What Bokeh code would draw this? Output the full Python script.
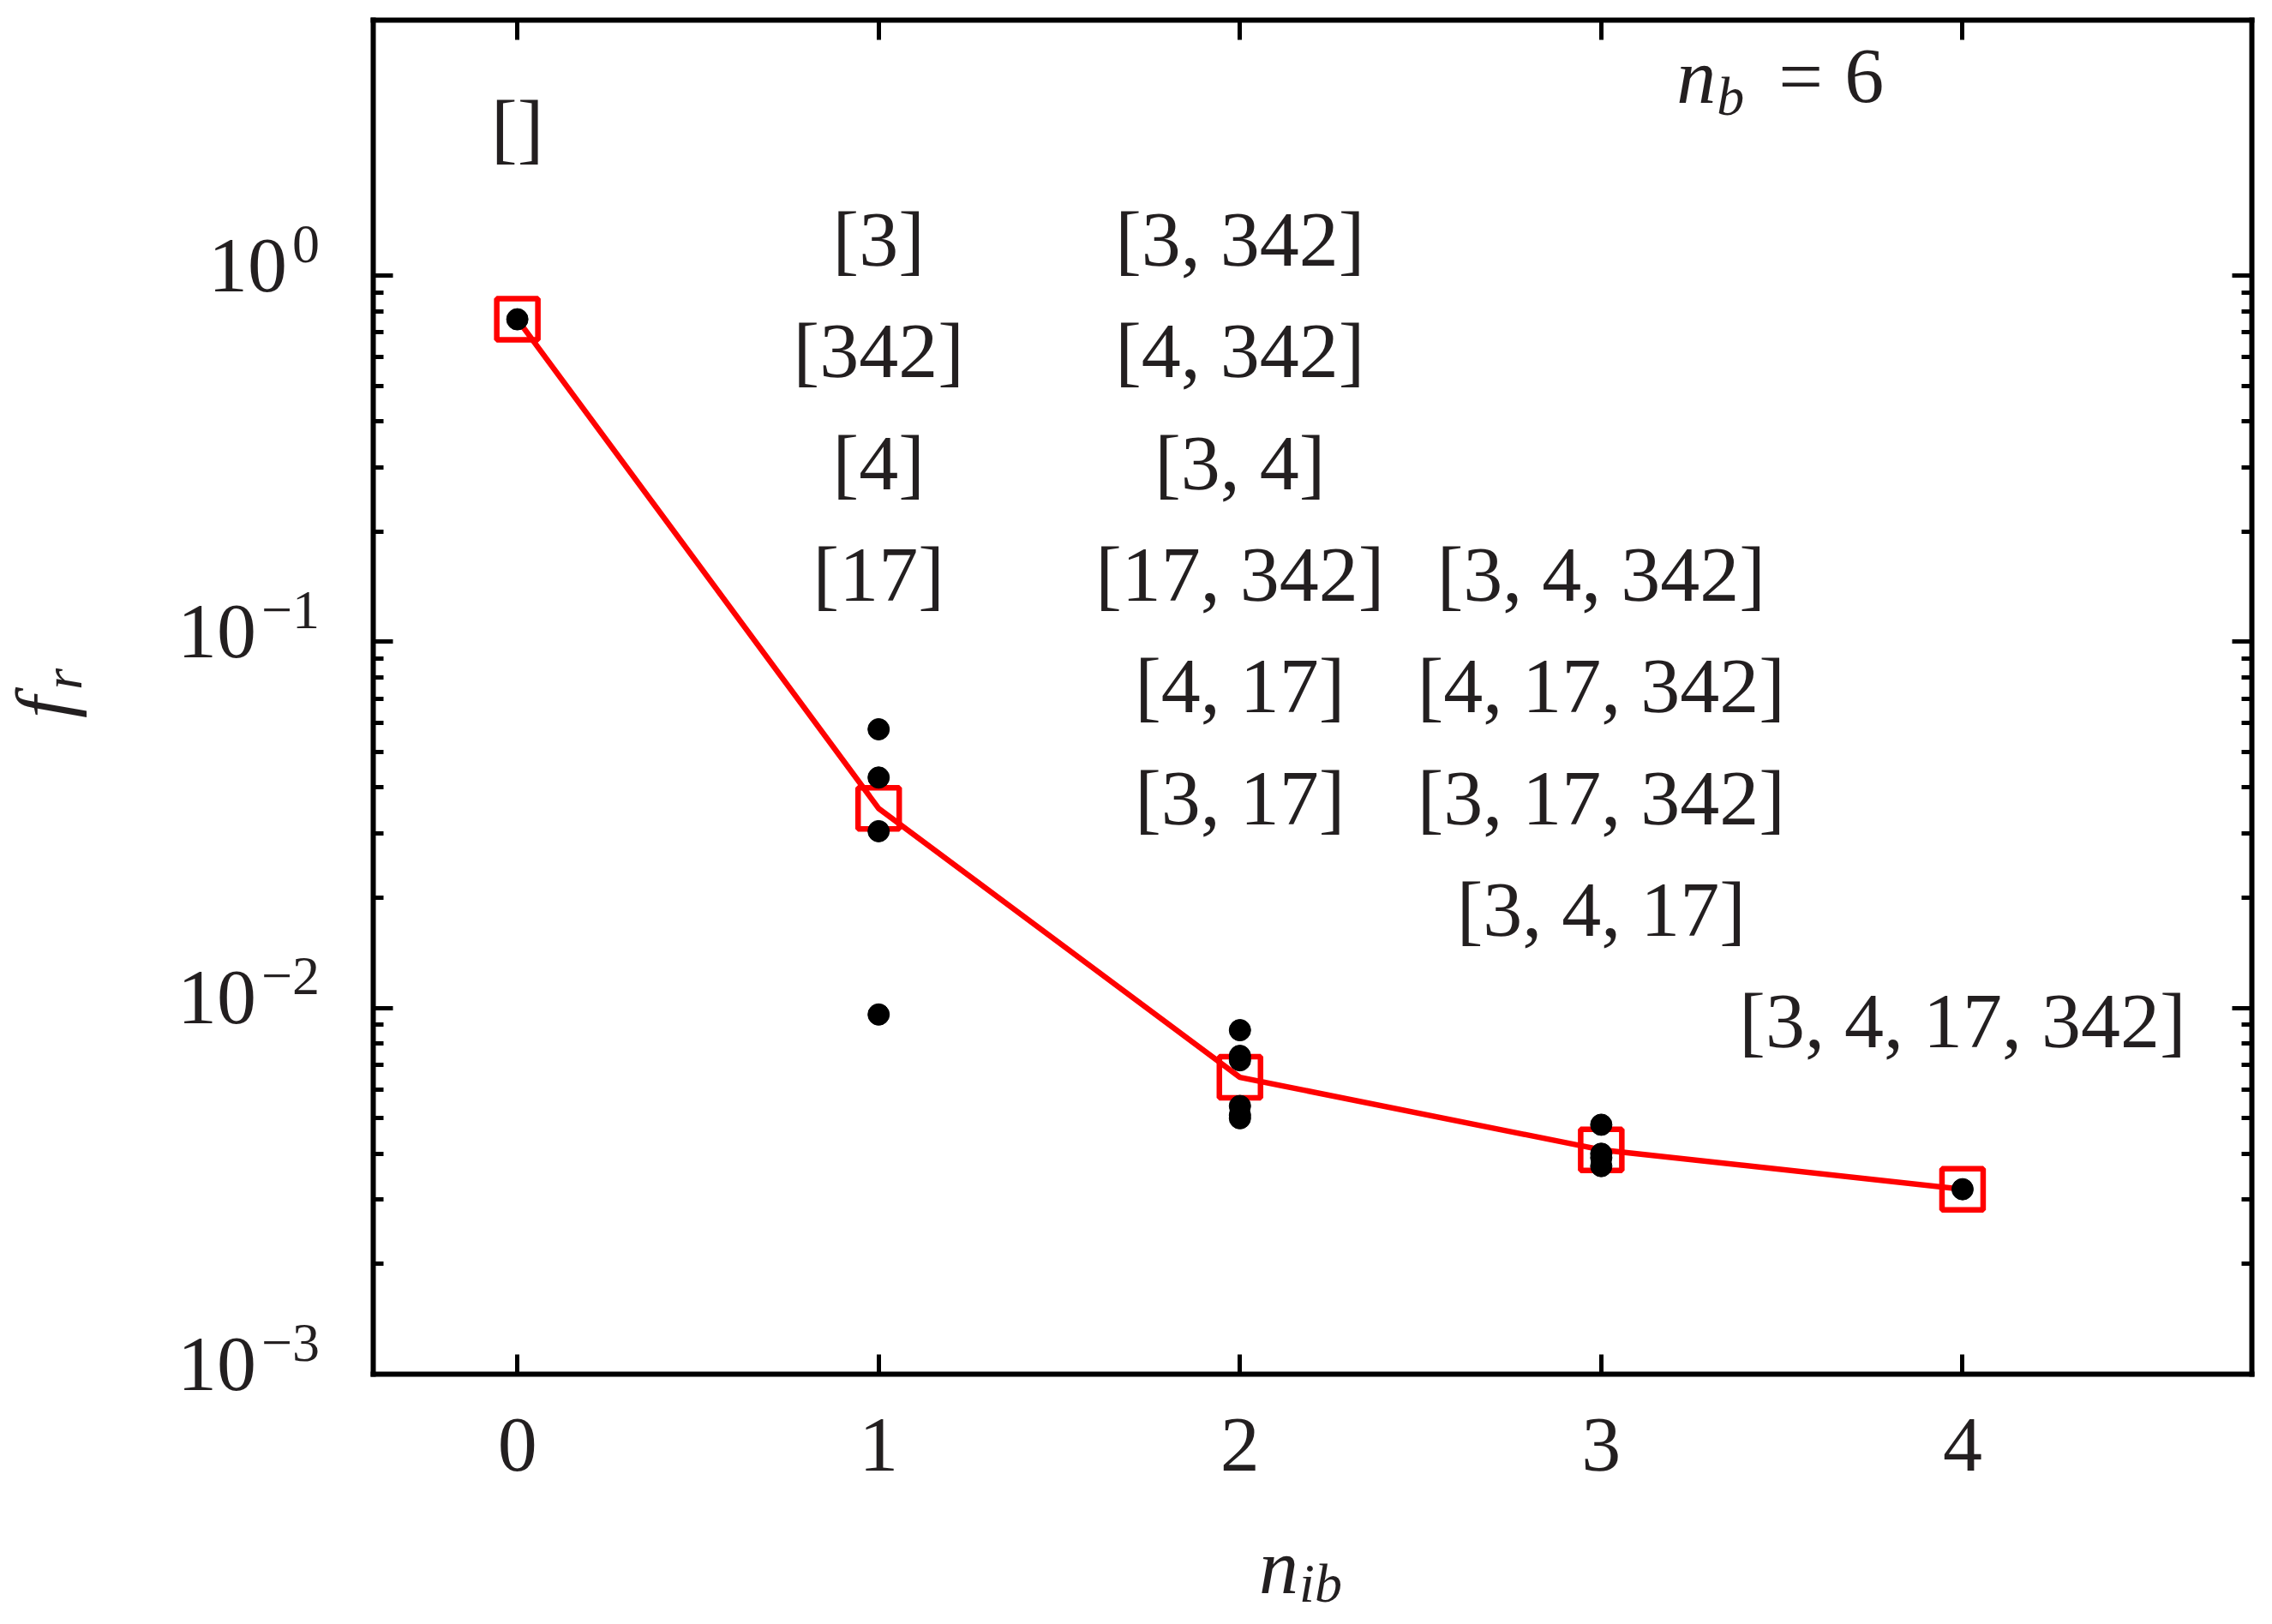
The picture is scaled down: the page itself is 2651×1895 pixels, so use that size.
import numpy as np
from bokeh.plotting import figure
from bokeh.models import (ColumnDataSource, Range1d, FixedTicker, LinearAxis,
                          LogAxis, Label, LabelSet)
from bokeh.core.properties import value
from bokeh.embed import file_html
from bokeh.resources import INLINE

# f_r of every bundle combination, grouped by number of included bundles n_ib
n_ib = [0, 1, 2, 3, 4]
f_r_groups = [
    [0.76],
    [0.0577, 0.0426, 0.0304, 0.0096],
    [0.0087, 0.0074, 0.0072, 0.0054, 0.0051, 0.0050],
    [0.0048, 0.0040, 0.0039, 0.0037],
    [0.0032],
]

# combination labels: column is n_ib, row is the text line in the panel
combo_labels = ["[]",
                "[3]", "[342]", "[4]", "[17]",
                "[3, 342]", "[4, 342]", "[3, 4]", "[17, 342]", "[4, 17]", "[3, 17]",
                "[3, 4, 342]", "[4, 17, 342]", "[3, 17, 342]", "[3, 4, 17]",
                "[3, 4, 17, 342]"]
combo_n_ib = [0, 1, 1, 1, 1, 2, 2, 2, 2, 2, 2, 3, 3, 3, 3, 4]
combo_row = [0, 1, 2, 3, 4, 1, 2, 3, 4, 5, 6, 4, 5, 6, 7, 8]

n_b = 6
x_ticks = [0, 1, 2, 3, 4]
y_major = [1e-3, 1e-2, 1e-1, 1e0]
y_minor = [m * 10.0 ** e for e in (-3, -2, -1) for m in range(2, 10)]

SERIF = "Liberation Serif"
INK = "#231f20"
FS = 92      # main text size, px
FS_SUB = 64  # sub/superscript size, px

# the boxed panel
x_lo, x_hi = -0.4, 4.8
y_lo, y_hi = 1e-3, 5.0

# canvas and where the box sits in it (px); the view extends past the box
W, H = 2635, 1887
box_l, box_r, box_t, box_b = 434.5, 2626.7, 22.5, 1603.0
px_x = (box_r - box_l) / (x_hi - x_lo)
px_dec = (box_b - box_t) / (np.log10(y_hi) - np.log10(y_lo))
view_x = (x_lo - box_l / px_x, x_hi + (W - box_r) / px_x)
view_y = (10 ** (np.log10(y_lo) - (H - box_b) / px_dec),
          10 ** (np.log10(y_hi) + box_t / px_dec))

p = figure(
    width=W, height=H,
    x_range=Range1d(*view_x), y_range=Range1d(*view_y),
    y_axis_type="log", tools="",
    output_backend="svg", toolbar_location=None,
    min_border=0,
)
p.grid.visible = False
p.outline_line_color = None
p.background_fill_color = "white"
p.border_fill_color = "white"

xt = FixedTicker(ticks=x_ticks, minor_ticks=[])
yt = FixedTicker(ticks=y_major, minor_ticks=y_minor)

p.add_layout(LinearAxis(), "above")
p.add_layout(LogAxis(), "right")

p.below[0].fixed_location = y_lo
p.above[0].fixed_location = y_hi
p.left[0].fixed_location = x_lo
p.right[0].fixed_location = x_hi

for ax in p.xaxis:
    ax.ticker = xt
    ax.bounds = (x_lo, x_hi)
for ax in p.yaxis:
    ax.ticker = yt
    ax.bounds = (y_lo, y_hi)

for ax in p.xaxis + p.yaxis:
    ax.axis_line_color = "black"
    ax.axis_line_width = 6
    ax.axis_line_cap = "square"
    ax.major_tick_in = 23
    ax.major_tick_out = 0
    ax.minor_tick_in = 12
    ax.minor_tick_out = 0
    ax.major_tick_line_width = 5
    ax.minor_tick_line_width = 5
    ax.major_tick_line_color = "black"
    ax.minor_tick_line_color = "black"
    # numbers are set as labels below, so the axes print none
    ax.major_label_text_font_size = "1px"
    ax.major_label_text_color = None
    ax.major_label_standoff = 0
    ax.axis_label = None

# x tick numbers
xlab_src = ColumnDataSource(dict(x=x_ticks, y=[y_lo] * len(x_ticks),
                                 t=[str(t) for t in x_ticks]))
p.add_layout(LabelSet(x="x", y="y", text="t", source=xlab_src, y_offset=-112,
                      text_align="center", text_baseline="alphabetic",
                      text_font=value(SERIF), text_font_size=f"{FS}px",
                      text_color=INK))

# y tick labels as 10 with a raised exponent
exps = [int(round(np.log10(t))) for t in y_major]
exp_text = [str(e).replace("-", "\u2212") for e in exps]
exp_w = [0.5 * FS_SUB * len(str(abs(e))) + (0.564 * FS_SUB if e < 0 else 0) for e in exps]
tick_src = ColumnDataSource(dict(
    x=[x_lo] * len(y_major), y=y_major,
    base=["10"] * len(y_major), exp=exp_text,
    base_off=[-62 - w - 6 for w in exp_w],
))
p.add_layout(LabelSet(x="x", y="y", text="base", source=tick_src,
                      x_offset="base_off", y_offset=-18,
                      text_align="right", text_baseline="alphabetic",
                      text_font=value(SERIF), text_font_size=f"{FS}px",
                      text_color=INK))
p.add_layout(LabelSet(x="x", y="y", text="exp", source=tick_src,
                      x_offset=-62, y_offset=16,
                      text_align="right", text_baseline="alphabetic",
                      text_font=value(SERIF), text_font_size=f"{FS_SUB}px",
                      text_color=INK))

# data
means = [float(np.mean(g)) for g in f_r_groups]
pts_x = [n for n, g in zip(n_ib, f_r_groups) for _ in g]
pts_y = [v for g in f_r_groups for v in g]

p.line(n_ib, means, line_color="red", line_width=6.5)
p.scatter(n_ib, means, marker="square", size=48, fill_color=None,
          line_color="red", line_width=6.5)
p.scatter(pts_x, pts_y, size=25, fill_color="black", line_color="black")

# combination labels, rows spaced evenly in log space
row_y = [10 ** (0.405 - 0.305 * r) for r in combo_row]
p.text(x=combo_n_ib, y=row_y, text=combo_labels,
       text_font=value(SERIF), text_font_size=f"{FS}px",
       text_align="center", text_baseline="middle", text_color=INK)


def lab(text, x, y, dx, dy, size, italic=False, align="left",
        baseline="alphabetic", angle=0):
    p.add_layout(Label(x=x, y=y, x_offset=dx, y_offset=dy, text=text,
                       text_font=SERIF, text_font_size=f"{size}px",
                       text_font_style="italic" if italic else "normal",
                       text_color=INK, text_align=align,
                       text_baseline=baseline, angle=angle))


# n_b = 6 annotation
lab("n", 3.5, 3.0, -77, 29, FS, italic=True, align="right")
lab("b", 3.5, 3.0, -76, 5, FS_SUB, italic=True)
lab("=", 3.5, 3.0, -4, 29, FS)
lab(str(n_b), 3.5, 3.0, 73, 29, FS)

# axis titles
x_mid = (x_lo + x_hi) / 2
y_mid = float(np.sqrt(y_lo * y_hi))
lab("n", x_mid, y_lo, -16, -224, FS, italic=True, align="right")
lab("ib", x_mid, y_lo, -15, -244, FS_SUB, italic=True)
lab("f", x_lo, y_mid, -384, -12, FS, italic=True, align="center",
    baseline="middle", angle=np.pi / 2)
lab("r", x_lo, y_mid, -362, 21, FS_SUB, italic=True, align="center",
    baseline="middle", angle=np.pi / 2)

open("out.html", "w").write(file_html(p, INLINE))
